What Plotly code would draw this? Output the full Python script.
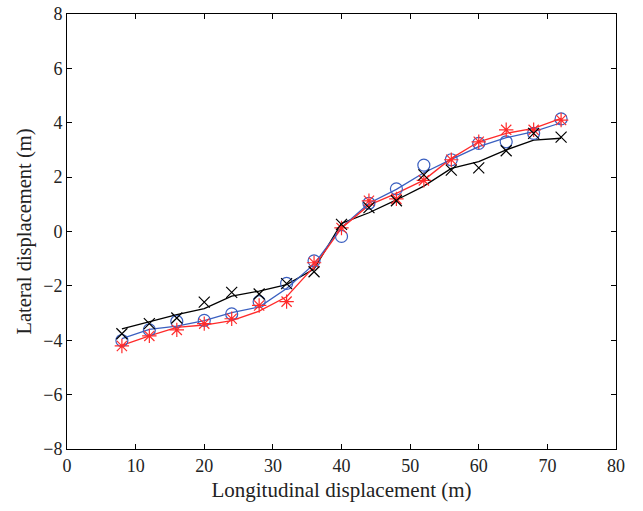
import plotly.graph_objects as go

x = [8, 12, 16, 20, 24, 28, 32, 36, 40, 44, 48, 52, 56, 60, 64, 68, 72]

# measured points (markers)
blue_pts = [-4.01, -3.62, -3.31, -3.27, -3.03, -2.58, -1.91, -1.08, -0.18, 1.04, 1.57, 2.44, 2.64, 3.24, 3.30, 3.61, 4.14]
red_pts = [-4.21, -3.84, -3.62, -3.39, -3.21, -2.72, -2.58, -1.15, 0.13, 1.13, 1.20, 1.88, 2.64, 3.30, 3.74, 3.74, 4.10]
black_pts = [-3.76, -3.39, -3.18, -2.60, -2.24, -2.30, -1.92, -1.48, 0.26, 0.88, 1.13, 2.08, 2.26, 2.34, 2.97, 3.61, 3.47]

# fitted curves (lines)
blue_line = [-3.94, -3.60, -3.48, -3.28, -2.98, -2.78, -2.10, -1.20, 0.15, 1.04, 1.55, 2.16, 2.65, 3.12, 3.45, 3.67, 4.00]
red_line = [-4.19, -3.84, -3.53, -3.44, -3.28, -2.93, -2.40, -1.29, 0.12, 0.97, 1.40, 1.89, 2.69, 3.30, 3.61, 3.79, 4.16]
black_line = [-3.58, -3.32, -3.06, -2.84, -2.38, -2.19, -1.95, -1.38, 0.30, 0.69, 1.16, 1.67, 2.32, 2.57, 3.00, 3.36, 3.43]

BLUE = "#3a5fc0"
RED = "#ff2a2a"
BLACK = "#000000"
TXT = "#222222"
FONT = "Liberation Serif"

fig = go.Figure()

for yl, c in [(black_line, BLACK), (blue_line, BLUE), (red_line, RED)]:
    fig.add_trace(go.Scatter(x=x, y=yl, mode="lines", line=dict(color=c, width=1.3),
                             showlegend=False, hoverinfo="skip"))

fig.add_trace(go.Scatter(x=x, y=blue_pts, mode="markers",
                         marker=dict(symbol="circle-open", size=12, color=BLUE, line=dict(width=1.2, color=BLUE)),
                         showlegend=False))
fig.add_trace(go.Scatter(x=x, y=red_pts, mode="markers",
                         marker=dict(symbol="asterisk-open", size=12, color=RED, line=dict(width=1.2, color=RED)),
                         showlegend=False))
fig.add_trace(go.Scatter(x=x, y=black_pts, mode="markers",
                         marker=dict(symbol="x-thin-open", size=11, color=BLACK, line=dict(width=1.2, color=BLACK)),
                         showlegend=False))

axis_common = dict(showgrid=False, zeroline=False, showline=True, linecolor="black", linewidth=1,
                   mirror="ticks", ticks="inside", ticklen=5, tickcolor="black", automargin=False,
                   tickfont=dict(family=FONT, size=18, color=TXT))

fig.update_xaxes(range=[0, 80], tickvals=[0, 10, 20, 30, 40, 50, 60, 70, 80],
                 title=dict(text="Longitudinal displacement (m)", font=dict(family=FONT, size=21, color=TXT), standoff=7),
                 **axis_common)
fig.update_yaxes(range=[-8, 8], tickvals=[-8, -6, -4, -2, 0, 2, 4, 6, 8],
                 title=dict(text="Lateral displacement (m)", font=dict(family=FONT, size=20.5, color=TXT), standoff=6),
                 **axis_common)

fig.update_layout(width=643, height=511, margin=dict(l=67, r=27, t=14, b=62),
                  plot_bgcolor="white", paper_bgcolor="white")

fig.write_html("out.html", config={"displayModeBar": False},
               post_script="document.body.style.margin='0';document.body.style.overflow='hidden';")
